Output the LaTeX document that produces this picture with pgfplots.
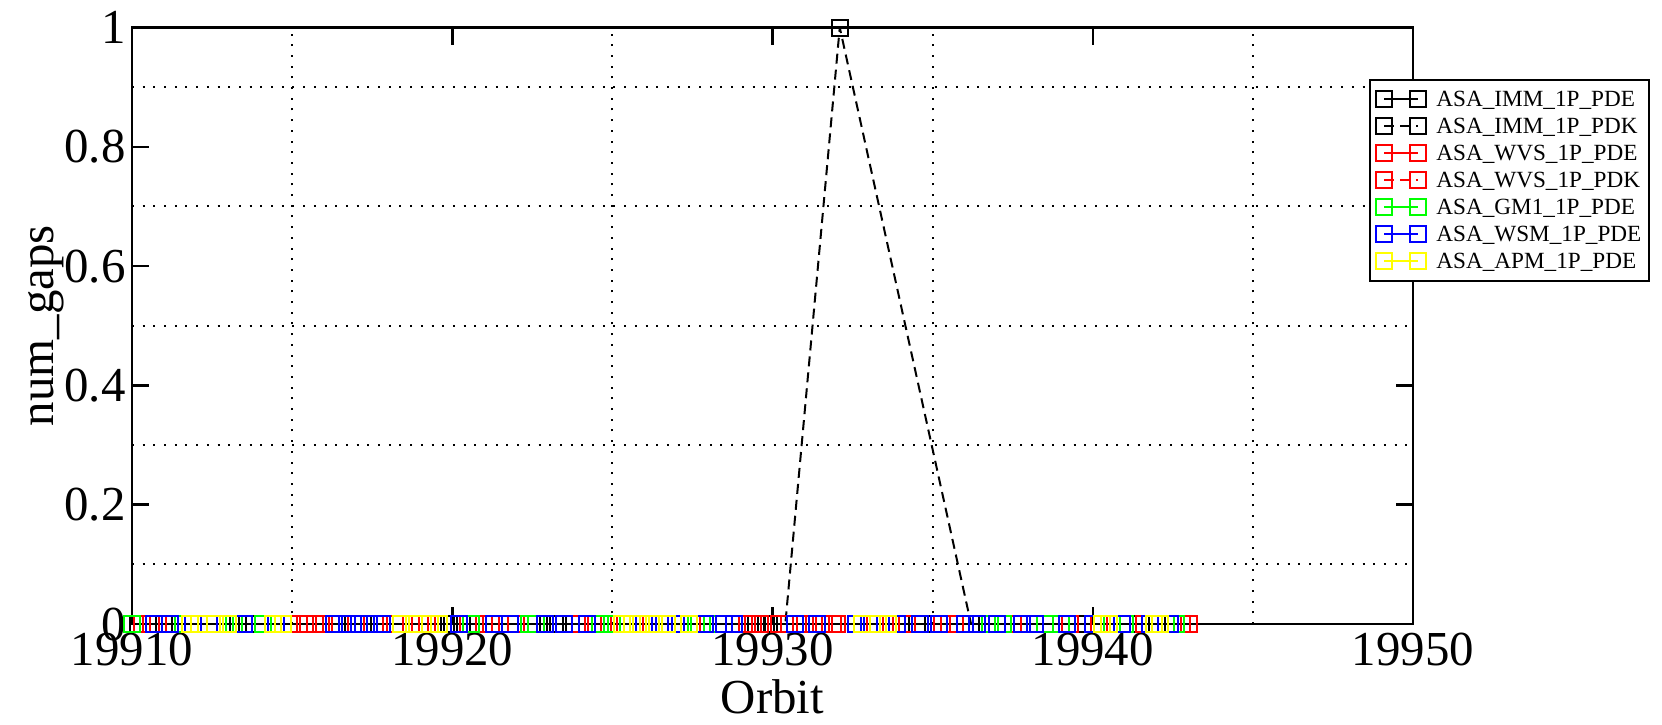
\documentclass[border=0pt]{standalone}
\usepackage{fontspec}
\setmainfont{Liberation Serif}
\usepackage{pgfplots}
\pgfplotsset{compat=1.18}
\definecolor{gred}{rgb}{1,0,0}
\definecolor{ggreen}{rgb}{0,1,0}
\definecolor{gblue}{rgb}{0,0,1}
\definecolor{gyellow}{rgb}{1,1,0}
\begin{document}
\begin{tikzpicture}
\begin{axis}[
  scale only axis=true,
  width=128.1mm, height=59.65mm,
  xmin=19910, xmax=19950, ymin=0, ymax=1,
  xtick={19910,19920,19930,19940,19950},
  xticklabels={19910,19920,19930,19940,19950},
  scaled x ticks=false,
  ytick={0,0.2,0.4,0.6,0.8,1},
  minor xtick={19915,19925,19935,19945},
  minor ytick={0.1,0.3,0.5,0.7,0.9},
  xminorgrids=true, yminorgrids=true,
  minor tick length=0pt,
  major tick length=1.7mm,
  tick align=inside,
  minor grid style={black, line width=0.2mm, dash pattern=on 0.2mm off 0.87mm},
  axis line style={line width=0.25mm},
  every tick/.style={black, line width=0.25mm},
  axis on top=true,
  /pgf/number format/assume math mode=true,
  /pgf/number format/set thousands separator={},
  tick label style={font=\fontsize{13.9}{16}\selectfont},
  yticklabel style={xshift=0.6mm},
  xticklabel style={yshift=0.3mm},
  label style={font=\fontsize{13.9}{16}\selectfont},
  xlabel={Orbit},
  ylabel={num\_gaps},
  xlabel style={at={(axis description cs:0.5,-0.1224)}, anchor=center},
  ylabel style={at={(axis description cs:-0.0671,0.5)}, anchor=center},
  every axis plot/.append style={line width=0.2mm, mark=square, mark size=0.8mm, mark options={solid}},
  legend image code/.code={\draw[#1] plot coordinates {(0mm,0mm) (3.4mm,0mm)};},
  legend style={at={(0.966,0.914)}, anchor=north west, draw=black, line width=0.2mm, fill=white,
    font=\fontsize{6.6}{7}\selectfont, inner xsep=0.6mm, inner ysep=0.6mm,
    nodes={inner sep=0.2mm, text height=1.9mm, text depth=0.4mm},
    /tikz/every odd column/.style={column sep=0.8mm}},
  legend cell align=left,
]
% ASA_IMM_1P_PDE
\addplot[black] coordinates {
(19910.2,0) (19911.0,0) (19913.3,0) (19914.0,0) (19917.2,0) (19919.9,0) (19920.3,0)
(19921.5,0) (19923.0,0) (19923.3,0) (19926.0,0) (19929.5,0) (19930.0,0) (19933.0,0)
(19934.5,0) (19935.0,0) (19936.5,0) (19938.0,0) (19939.5,0) (19941.0,0) (19942.0,0)};
\addlegendentry{ASA\_IMM\_1P\_PDE}
% ASA_IMM_1P_PDK
\addplot[black, dash pattern=on 1mm off 0.6mm] coordinates {
(19910.5,0) (19913.6,0) (19916.9,0) (19920.0,0) (19923.2,0) (19926.3,0) (19929.8,0)
(19930.4,0) (19932.1,1) (19936.2,0) (19937.5,0) (19939.7,0) (19941.5,0)};
\addlegendentry{ASA\_IMM\_1P\_PDK}
% ASA_WVS_1P_PDE
\addplot[gred] coordinates {
(19910.3,0) (19910.8,0) (19914.9,0) (19915.2,0) (19915.5,0) (19915.9,0) (19916.5,0)
(19917.6,0) (19918.2,0) (19919.0,0) (19920.5,0) (19921.2,0) (19922.0,0) (19924.0,0)
(19924.7,0) (19926.2,0) (19929.2,0) (19929.6,0) (19930.2,0) (19930.9,0) (19931.3,0)
(19931.6,0) (19932.0,0) (19933.5,0) (19934.2,0) (19935.3,0) (19935.7,0) (19937.5,0)
(19938.7,0) (19939.3,0) (19940.2,0) (19941.6,0) (19943.0,0)};
\addlegendentry{ASA\_WVS\_1P\_PDE}
% ASA_WVS_1P_PDK
\addplot[gred, dash pattern=on 1mm off 0.6mm] coordinates {
(19910.6,0) (19911.3,0) (19915.0,0) (19915.7,0) (19917.0,0) (19917.9,0) (19919.2,0)
(19921.0,0) (19924.4,0) (19925.4,0) (19926.5,0) (19928.0,0) (19929.4,0) (19930.5,0)
(19931.0,0) (19931.9,0) (19933.2,0) (19935.5,0) (19937.0,0) (19939.0,0) (19940.5,0)
(19942.8,0)};
\addlegendentry{ASA\_WVS\_1P\_PDK}
% ASA_GM1_1P_PDE
\addplot[ggreen] coordinates {
(19910.0,0) (19911.6,0) (19912.9,0) (19913.2,0) (19914.1,0) (19920.6,0) (19922.4,0)
(19922.6,0) (19924.6,0) (19925.0,0) (19927.2,0) (19927.6,0) (19928.3,0) (19936.8,0)
(19937.2,0) (19938.5,0) (19939.0,0) (19940.6,0) (19941.0,0) (19942.3,0) (19942.6,0)};
\addlegendentry{ASA\_GM1\_1P\_PDE}
% ASA_WSM_1P_PDE
\addplot[gblue] coordinates {
(19910.7,0) (19911.2,0) (19911.9,0) (19912.4,0) (19913.5,0) (19914.5,0) (19916.3,0)
(19916.7,0) (19917.1,0) (19917.4,0) (19917.8,0) (19920.2,0) (19921.3,0) (19921.8,0)
(19922.9,0) (19923.5,0) (19924.2,0) (19926.0,0) (19926.6,0) (19927.0,0) (19927.9,0)
(19928.5,0) (19928.8,0) (19930.7,0) (19931.4,0) (19932.6,0) (19933.0,0) (19933.9,0)
(19934.6,0) (19935.2,0) (19936.0,0) (19936.4,0) (19937.0,0) (19937.8,0) (19938.2,0)
(19939.2,0) (19940.0,0) (19940.9,0) (19941.8,0) (19942.4,0)};
\addlegendentry{ASA\_WSM\_1P\_PDE}
% ASA_APM_1P_PDE
\addplot[gyellow] coordinates {
(19911.8,0) (19912.1,0) (19912.6,0) (19913.0,0) (19914.4,0) (19914.7,0) (19918.4,0)
(19918.8,0) (19919.3,0) (19919.6,0) (19925.3,0) (19925.6,0) (19925.9,0) (19926.3,0)
(19926.7,0) (19927.4,0) (19932.8,0) (19933.3,0) (19933.6,0) (19940.3,0) (19940.5,0)
(19941.9,0) (19942.1,0)};
\addlegendentry{ASA\_APM\_1P\_PDE}
\coordinate (bl) at (rel axis cs:0,0);
\coordinate (tr) at (rel axis cs:1,1);
\end{axis}
\pgfresetboundingbox
\path[use as bounding box] ([xshift=-13.2mm,yshift=-10mm]bl) rectangle ([xshift=24.9mm,yshift=2.75mm]tr);
\end{tikzpicture}
\end{document}
